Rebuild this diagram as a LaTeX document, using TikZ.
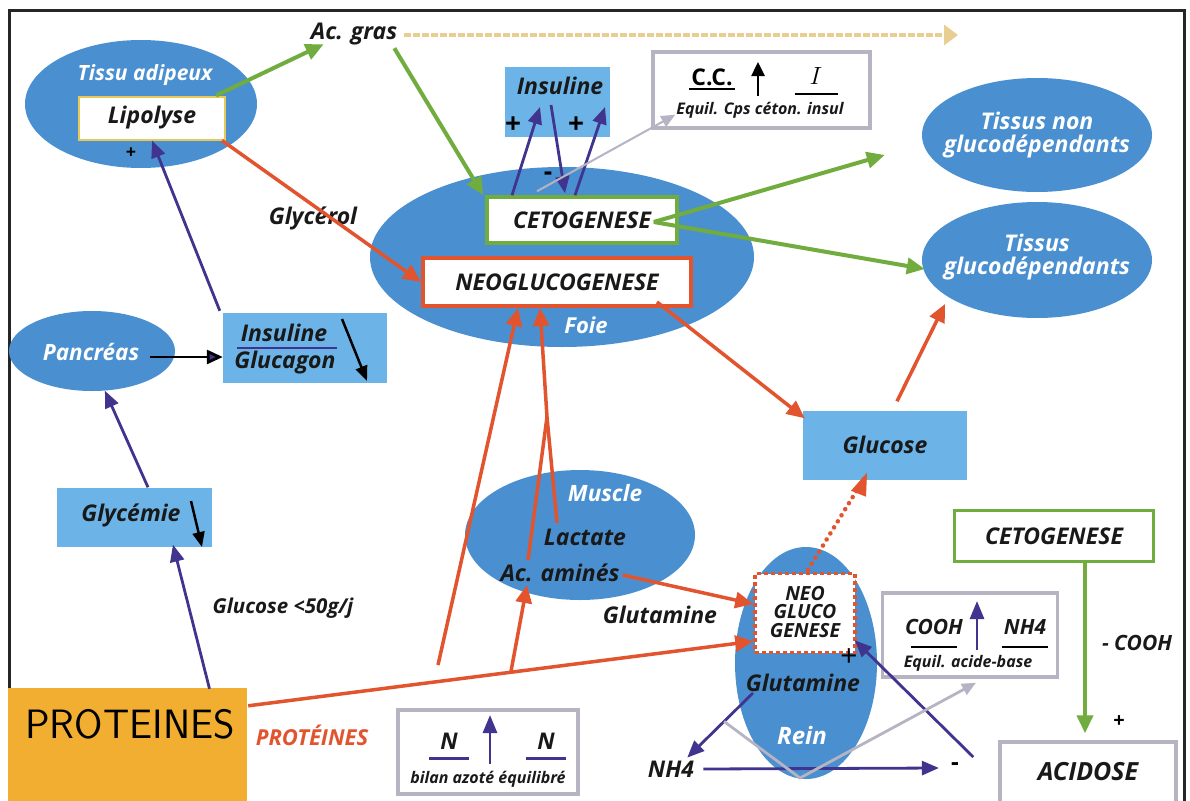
\documentclass[tikz,border=0pt]{standalone}
\usepackage{fontspec}
\setmainfont{Open Sans}
\usetikzlibrary{shapes.geometric,arrows.meta,calc}
\definecolor{ellB}{RGB}{74,144,208}
\definecolor{boxB}{RGB}{108,180,232}
\definecolor{redA}{RGB}{226,84,46}
\definecolor{greenA}{RGB}{112,172,62}
\definecolor{navyA}{RGB}{64,52,142}
\definecolor{grayA}{RGB}{182,180,194}
\definecolor{orangeA}{RGB}{241,174,48}
\definecolor{goldA}{RGB}{232,200,90}
\definecolor{tanA}{RGB}{232,206,146}
\newcommand{\fsz}[1]{\fontsize{#1}{#1}\selectfont}
\newcommand{\itb}{\bfseries\itshape}
\tikzset{
  ell/.style={ellipse, fill=ellB, inner sep=0pt},
  lbl/.style={font=\fsz{23}\itb, text=black!90, inner sep=1pt, align=center},
  slbl/.style={font=\fsz{16}\itb, text=black!90, inner sep=1pt},
  wlbl/.style={font=\bfseries\itshape\fsz{22}, text=white, inner sep=1pt, align=center},
  bluebox/.style={rectangle, fill=boxB, inner sep=0pt},
  wbox/.style={rectangle, fill=white, inner sep=0pt},
  sign/.style={font=\fsz{22}, inner sep=0pt},
  tip/.style={-{Triangle[length=18pt,width=16pt]}},
  redarr/.style={draw=redA, line width=3.5pt, tip},
  redline/.style={draw=redA, line width=3.5pt},
  greenarr/.style={draw=greenA, line width=4pt, tip},
  navyarr/.style={draw=navyA, line width=2.8pt, -{Triangle[length=17pt,width=14pt]}},
  grayarr/.style={draw=grayA, line width=2.8pt, -{Triangle[length=14pt,width=12pt]}},
  blackarr/.style={draw=black, line width=2.5pt, -{Triangle[length=15pt,width=12pt]}},
}
\begin{document}
\begin{tikzpicture}[x=1pt,y=-1pt]
\useasboundingbox (0,0) rectangle (1190,800);
\clip (0,0) rectangle (1190,800);
\fill[white] (0,0) rectangle (1190,800);
% frame
\draw[line width=3pt, black!85] (9,830) -- (9,11) -- (1184,11) -- (1184,830);

% ---------- ellipses ----------
\node[ell, minimum width=232, minimum height=128] (adip) at (141,104) {};
\node[ell, minimum width=384, minimum height=180] (foie) at (562,257) {};
\node[ell, minimum width=230, minimum height=114] (tnon) at (1037,135) {};
\node[ell, minimum width=230, minimum height=116] (tglu) at (1037,260) {};
\node[ell, minimum width=166, minimum height=80] (pancreas) at (92,351) {};
\node[ell, minimum width=230, minimum height=130] (muscle) at (580,535) {};
\node[ell, minimum width=142, minimum height=232] (rein) at (806,663) {};

% ---------- ellipse labels ----------
\node[wlbl, font=\bfseries\itshape\fsz{21}] (adipT) at (145,75) {Tissu adipeux};
\node[wlbl, font=\bfseries\itshape\fsz{22}] (foieT) at (586,325) {Foie};
\node[wlbl, font=\bfseries\itshape\fsz{23}, align=center] (tnonT) at (1037,135) {Tissus non\\[0pt]glucodépendants};
\node[wlbl, font=\bfseries\itshape\fsz{23}, align=center] (tgluT) at (1037,257) {Tissus\\[0pt]glucodépendants};
\node[wlbl, font=\bfseries\itshape\fsz{22.5}] (pancT) at (91,352) {Pancréas};
\node[wlbl, font=\bfseries\itshape\fsz{22.5}] (muscT) at (605,493) {Muscle};
\node[wlbl, font=\bfseries\itshape\fsz{24}] (reinT) at (802,735) {Rein};

% ---------- boxes ----------
\node[wbox, draw=goldA, line width=2pt, minimum width=146, minimum height=43] (lipo) at (152,118) {};
\node[lbl] at (lipo.center) {Lipolyse};
\node[sign, font=\bfseries\fsz{18}] (plus1) at (131,153) {+};

\node[lbl] (acgras) at (354,34) {Ac. gras};
\coordinate (tanEnd) at (958,35);

\node[bluebox, minimum width=105, minimum height=70] (insB) at (557,102) {};
\node[lbl] (insT) at (560,86) {Insuline};
\node[sign, font=\bfseries\fsz{28}] (plusA) at (513,125) {+};
\node[sign, font=\bfseries\fsz{28}] (plusB) at (576,125) {+};
\node[sign, font=\bfseries\fsz{26}] (minusA) at (548,176) {-};

\node[wbox, draw=grayA, line width=3.5pt, minimum width=217, minimum height=76] (cc) at (761.5,90) {};
\node[inner sep=1pt, font=\bfseries\fsz{23}] (ccT) at (712,77) {C.C.};
\node[inner sep=0pt] (ccI) at (816,76) {\fsz{24}$I$};
\node[slbl] (ccE) at (760,110) {Equil. Cps céton. insul};
\coordinate (ccA1) at (758,96);
\coordinate (ccA2) at (758,62);

\node[wbox, draw=greenA, line width=3.5pt, minimum width=190, minimum height=46] (ceto1) at (582,220) {};
\node[lbl] at (ceto1.center) {CETOGENESE};
\node[wbox, draw=redA, line width=4pt, minimum width=268, minimum height=48] (neo1) at (557,282) {};
\node[lbl] at (neo1.center) {NEOGLUCOGENESE};

\node[lbl] (glycerol) at (313,218) {Glycérol};

\node[bluebox, minimum width=164, minimum height=70] (ig) at (305,348) {};
\node[lbl] (igI) at (284,333) {Insuline};
\node[lbl] (igG) at (285,363) {Glucagon};
\coordinate (igL1) at (237,348);
\coordinate (igL2) at (337,348);
\coordinate (igA1) at (342,319);
\coordinate (igA2) at (367,381);

\node[bluebox, minimum width=155, minimum height=59] (glyc) at (134,517) {};
\node[lbl] (glycT) at (131,515) {Glycémie};
\coordinate (glA1) at (191,501);
\coordinate (glA2) at (202,547);

\node[lbl, font=\fsz{20.5}\itb] (glu50) at (283,608) {Glucose <50g/j};

\node[rectangle, fill=orangeA, minimum width=239, minimum height=130, inner sep=0pt] (prot) at (127.5,753) {};
\node[font=\sffamily\fsz{41}, inner sep=0pt] (protT) at (130,724) {PROTEINES};
\node[font=\bfseries\itshape\fsz{22}, text=redA] (protR) at (312,735) {PROTÉINES};

\node[wbox, draw=grayA, line width=3.5pt, minimum width=180, minimum height=84] (bilan) at (488,752) {};
\node[lbl] (bN1) at (449,741) {N};
\node[lbl] (bN2) at (546,741) {N};
\node[slbl] (bT) at (488,779) {bilan azoté équilibré};
\coordinate (bA1) at (490,764);
\coordinate (bA2) at (490,715);

\node[lbl] (lact) at (585,537) {Lactate};
\node[lbl] (acam) at (560,573) {Ac. aminés};
\node[lbl] (glut1) at (660,615) {Glutamine};

\node[bluebox, minimum width=164, minimum height=69] (glucose) at (885,445) {};
\node[lbl] at (glucose.center) {Glucose};

\node[wbox, draw=redA, line width=3.5pt, dash pattern=on 4pt off 3pt, minimum width=100, minimum height=79] (neo2) at (805,613) {};
\node[lbl, font=\fsz{19.5}\itb, align=center] at (805,612) {NEO\\[-1pt]GLUCO\\[-1pt]GENESE};
\node[sign, font=\fsz{30}] (plus2) at (849,658) {+};
\node[lbl] (glut2) at (803,683) {Glutamine};

\node[lbl] (nh4) at (671,769) {NH4};
\node[sign, font=\bfseries\fsz{24}] (minusB) at (955,767) {-};

\node[wbox, draw=grayA, line width=3.5pt, minimum width=175, minimum height=84] (cooh) at (970,635) {};
\node[lbl, font=\fsz{21}\itb] (coohT) at (934,627) {COOH};
\node[lbl, font=\fsz{21}\itb] (nh4T) at (1025,627) {NH4};
\node[slbl] (coohE) at (968,663) {Equil. acide-base};
\coordinate (cA1) at (977,650);
\coordinate (cA2) at (977,601);

\node[wbox, draw=greenA, line width=3.5pt, minimum width=199, minimum height=51] (ceto2) at (1054,536) {};
\node[lbl] at (ceto2.center) {CETOGENESE};
\node[lbl, font=\fsz{21}\itb] (coohL) at (1137,643) {- COOH};
\node[sign, font=\bfseries\fsz{20}] (plus3) at (1119,722) {+};

\node[wbox, draw=grayA, line width=3.5pt, minimum width=176, minimum height=70] (acidose) at (1088,777) {};
\node[lbl, font=\fsz{25}\itb] at (1088,772) {ACIDOSE};

% ---------- underlines / fraction bars ----------
\draw[black, line width=2.2pt] ($(ccT.south west)+(-1,2)$) -- ($(ccT.south east)+(1,2)$);
\draw[black, line width=2.2pt] ($(ccI.center)+(-21,18)$) -- ($(ccI.center)+(22,18)$);
\draw[navyA, line width=2pt] (igL1) -- (igL2);
\draw[navyA, line width=3pt] ($(bN1.center)+(-20,17)$) -- ($(bN1.center)+(20,17)$);
\draw[navyA, line width=3pt] ($(bN2.center)+(-20,17)$) -- ($(bN2.center)+(20,17)$);
\draw[black, line width=2.2pt] ($(coohT.center)+(-23,20)$) -- ($(coohT.center)+(23,20)$);
\draw[black, line width=2.2pt] ($(nh4T.center)+(-23,20)$) -- ($(nh4T.center)+(23,20)$);

% ---------- small arrows inside boxes ----------
\draw[black, line width=2.5pt, -{Triangle[length=14pt,width=13pt]}] (ccA1) -- (ccA2);
\draw[blackarr] (igA1) -- (igA2);
\draw[black, line width=2.5pt, -{Triangle[length=15pt,width=12pt]}] (glA1) -- (glA2);
\draw[navyA, line width=2.8pt, -{Triangle[length=18pt,width=14pt]}] (bA1) -- (bA2);
\draw[navyA, line width=2.8pt, -{Triangle[length=18pt,width=14pt]}] (cA1) -- (cA2);

% ---------- connectors ----------
% Ac. gras dashed
\draw[tanA, line width=3.5pt, dash pattern=on 7pt off 2pt, -{Triangle[length=14pt,width=20pt]}] ($(acgras.east)+(6,1)$) -- (tanEnd);
% green
\draw[greenarr] ($(lipo.north east)+(-10,0)$) -- ($(acgras.south west)+(14,-2)$);
\draw[greenarr] ($(acgras.south east)+(-4,2)$) -- ($(ceto1.north west)+(-2,0)$);
\draw[greenarr] ($(ceto1.east)+(-25,2)$) -- ($(tnon.west)+(-37,20)$);
\draw[greenarr] ($(ceto1.east)+(-25,2)$) -- ($(tglu.west)+(3,9)$);
\draw[greenarr] ($(ceto2.south)+(31,0)$) -- ($(acidose.north)+(-3,-7)$);
% insulin feedback
\draw[navyarr] ($(ceto1.north)+(-70,0)$) -- ($(insB.center)+(-17,5)$);
\draw[navyarr] ($(insB.center)+(-6,3)$) -- ($(ceto1.north)+(-17,-2)$);
\draw[navyarr] ($(ceto1.north)+(-7,0)$) -- ($(insB.center)+(48,5)$);
\draw[grayarr, line width=2pt] ($(ceto1.north)+(-45,-4)$) -- ($(cc.south west)+(24,-15)$);
% red
\draw[redarr] ($(lipo.south east)+(-4,0)$) -- (neo1.west);
\coordinate (pA) at ($(prot.north east)+(1,18)$);
\coordinate (pB) at ($(neo2.south west)+(0,-13)$);
\draw[redarr] (pA) -- (pB);
\coordinate (br) at ($(pA)!0.52!(pB)$);
\coordinate (free1) at (438,665);
\draw[redarr] (free1) -- ($(neo1.south)+(-39,0)$);
\draw[redarr] (br) -- ($(acam.center)+(-33,12)$);
\coordinate (vx) at (547,417);
\draw[redline] ($(lact.center)+(-28,-14)$) -- (vx);
\draw[redline] ($(acam.center)+(-32,-13)$) -- (vx);
\draw[redarr] (vx) -- ($(neo1.south)+(-17,0)$);
\draw[redarr] ($(acam.east)+(2,2)$) -- ($(neo2.west)+(0,-9)$);
\draw[redarr] ($(neo1.south east)+(-36,-6)$) -- ($(glucose.north west)+(2,8)$);
\draw[redarr] ($(glucose.north)+(12,-9)$) -- ($(tglu.center)+(-92,44)$);
\draw[redA, line width=4.5pt, dash pattern=on 0.1pt off 7pt, line cap=round] ($(neo2.north)+(3,-2)$) -- ($(glucose.south)+(-21,-1)$);
\draw[draw=none, fill=redA] ($(glucose.south)+(-18,-7)$) -- ++(-16,18) -- ++(15,6) -- cycle;
% navy
\draw[navyarr] ($(ig.north west)+(-3,-2)$) -- (lipo.south);
\draw[black, line width=2.8pt, -{Triangle[length=16pt,width=14pt,fill=navyA]}] ($(pancreas.center)+(58,6)$) -- ($(ig.west)+(0,9)$);
\draw[navyarr] ($(glyc.north)+(14,0)$) -- (pancreas.-72);
\draw[navyarr] ($(prot.north)+(82,1)$) -- ($(glyc.south)+(39,-2)$);
\coordinate (gq) at ($(glut2.center)+(-50,10)$);
\draw[navyarr] (gq) -- ($(nh4.north east)+(-8,-2)$);
\draw[navyarr] ($(nh4.east)+(8,0)$) -- ($(minusB.west)+(-12,1)$);
\draw[navyarr] ($(acidose.west)+(-25,-20)$) -- ($(neo2.south east)+(-2,-14)$);
% gray V
\coordinate (gv0) at ($(gq)!0.44!($(nh4.north east)+(-8,-2)$)$);
\coordinate (gv1) at (800,778);
\draw[grayarr] (gv0) -- (gv1) -- ($(cooh.south)+(6,4)$);
\end{tikzpicture}
\end{document}
